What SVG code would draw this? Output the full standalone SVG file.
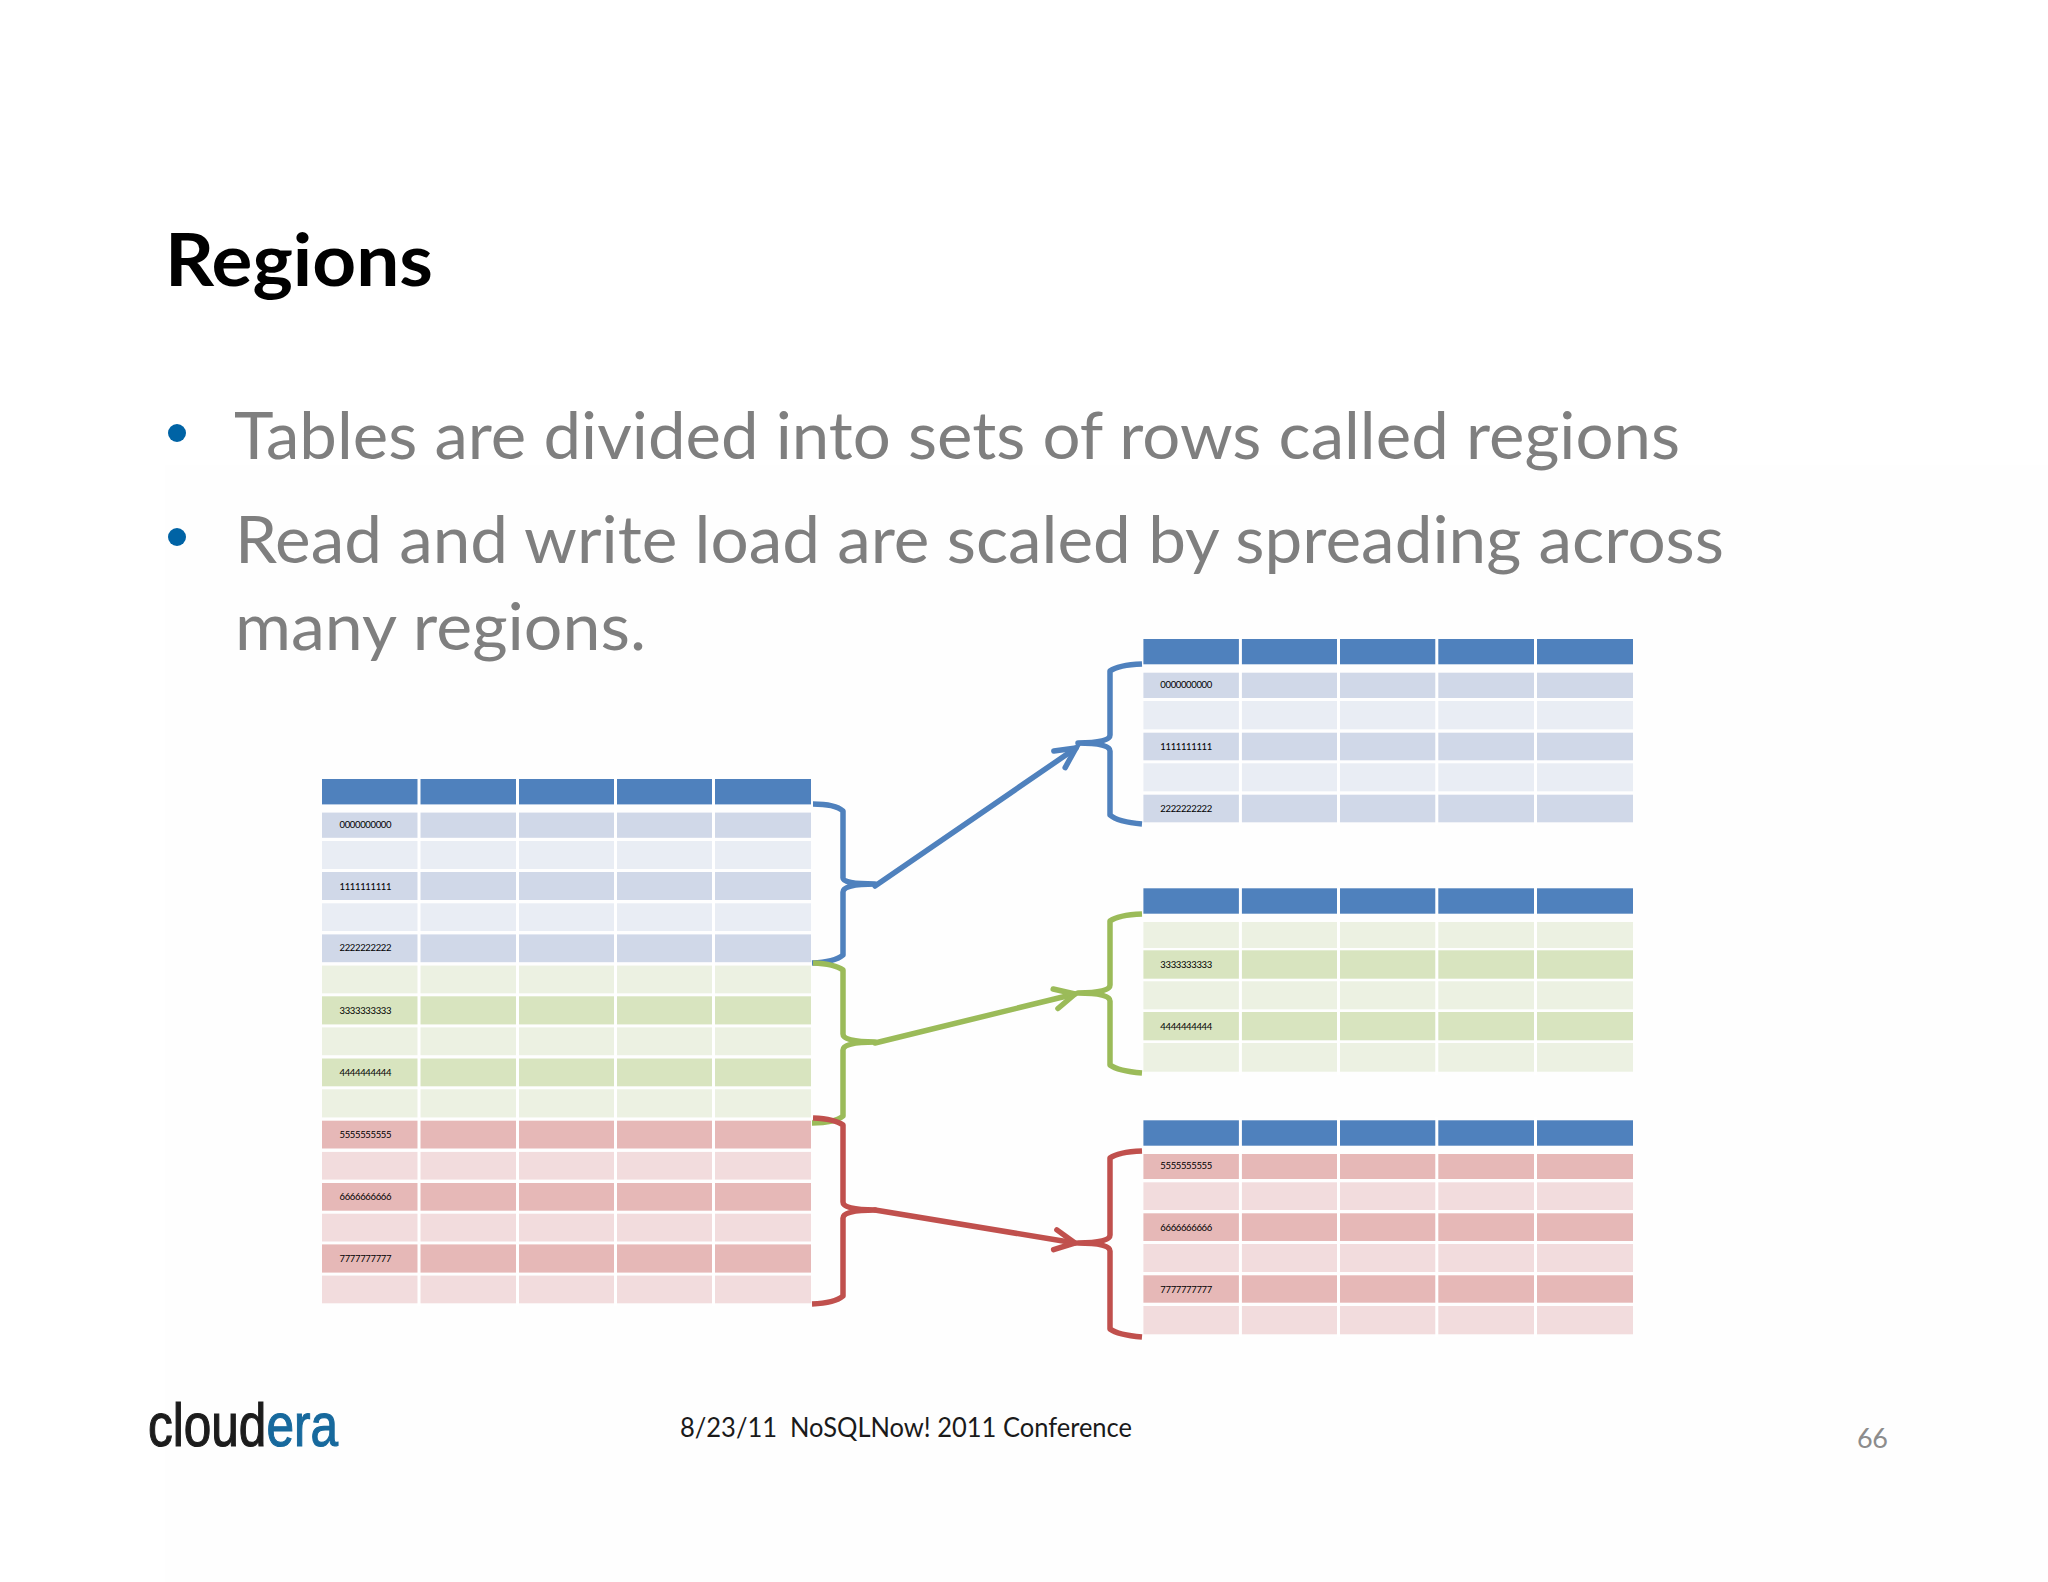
<svg xmlns="http://www.w3.org/2000/svg" width="2048" height="1582" viewBox="0 0 2048 1582">
<style>
text{font-family:"Lato","Open Sans",sans-serif}
.h{fill:#4f81bd}.b1{fill:#d0d8e8}.b2{fill:#e9edf4}.g1{fill:#d8e4bf}.g2{fill:#ecf1e2}.r1{fill:#e6b8b7}.r2{fill:#f2dcdd}
.sep{stroke:#fff;stroke-width:3;fill:none}
.lab{font-size:9.5px;fill:#000}
.body{font-size:66px;fill:#7f7f7f}
.br{fill:none;stroke-width:5.5;stroke-linejoin:round;stroke-linecap:butt}
.ar{fill:none;stroke-width:5.5;stroke-linecap:round}
.blue{stroke:#4f81bd}.green{stroke:#9bbb59}.red{stroke:#c0504d}
</style>
<defs>
<marker id="mb" markerUnits="userSpaceOnUse" markerWidth="40" markerHeight="40" refX="30" refY="20" orient="auto"><path d="M10,10L30,20L10,30" fill="none" stroke="#4f81bd" stroke-width="5.5" stroke-linecap="round"/></marker>
<marker id="mg" markerUnits="userSpaceOnUse" markerWidth="40" markerHeight="40" refX="30" refY="20" orient="auto"><path d="M10,10L30,20L10,30" fill="none" stroke="#9bbb59" stroke-width="5.5" stroke-linecap="round"/></marker>
<marker id="mr" markerUnits="userSpaceOnUse" markerWidth="40" markerHeight="40" refX="30" refY="20" orient="auto"><path d="M10,10L30,20L10,30" fill="none" stroke="#c0504d" stroke-width="5.5" stroke-linecap="round"/></marker>
</defs>
<rect width="2048" height="1582" fill="#fff"/>
<rect x="165" y="465" width="1883" height="1117" fill="#fefefe"/>
<g id="title"><text x="165" y="286" font-size="72" font-weight="700" fill="#000" textLength="268" lengthAdjust="spacingAndGlyphs">Regions</text></g>
<g id="bullets">
<circle cx="177" cy="433" r="9" fill="#0063a5"/>
<circle cx="177" cy="537" r="9" fill="#0063a5"/>
<text class="body" x="234" y="459" textLength="1446" lengthAdjust="spacingAndGlyphs">Tables are divided into sets of rows called regions</text>
<text class="body" x="235" y="563" textLength="1489" lengthAdjust="spacingAndGlyphs">Read and write load are scaled by spreading across</text>
<text class="body" x="235" y="650" textLength="411" lengthAdjust="spacingAndGlyphs">many regions.</text>
</g>
<g id="table-main">
<rect class="h" x="322" y="779" width="489" height="25.4"/>
<rect class="b1" x="322" y="812.6" width="489" height="25.2"/>
<rect class="b2" x="322" y="841" width="489" height="28"/>
<rect class="b1" x="322" y="872" width="489" height="28"/>
<rect class="b2" x="322" y="903.3" width="489" height="27.7"/>
<rect class="b1" x="322" y="934.4" width="489" height="27.8"/>
<rect class="g2" x="322" y="965.6" width="489" height="27.7"/>
<rect class="g1" x="322" y="996.3" width="489" height="28.1"/>
<rect class="g2" x="322" y="1027.4" width="489" height="27.8"/>
<rect class="g1" x="322" y="1058.5" width="489" height="27.8"/>
<rect class="g2" x="322" y="1089.3" width="489" height="28.1"/>
<rect class="r1" x="322" y="1120.7" width="489" height="27.8"/>
<rect class="r2" x="322" y="1151.9" width="489" height="27.7"/>
<rect class="r1" x="322" y="1183" width="489" height="27.7"/>
<rect class="r2" x="322" y="1213.7" width="489" height="27.8"/>
<rect class="r1" x="322" y="1244.4" width="489" height="28.2"/>
<rect class="r2" x="322" y="1275.6" width="489" height="27.7"/>
<path class="sep" d="M419,775V1306M517.5,775V1306M615.5,775V1306M713.5,775V1306"/>
<text class="lab" x="339.5" y="828" textLength="52">0000000000</text>
<text class="lab" x="339.5" y="890" textLength="52">1111111111</text>
<text class="lab" x="339.5" y="951" textLength="52">2222222222</text>
<text class="lab" x="339.5" y="1014" textLength="52">3333333333</text>
<text class="lab" x="339.5" y="1076" textLength="52">4444444444</text>
<text class="lab" x="339.5" y="1137.5" textLength="52">5555555555</text>
<text class="lab" x="339.5" y="1200" textLength="52">6666666666</text>
<text class="lab" x="339.5" y="1262" textLength="52">7777777777</text>
</g>
<g id="table-blue">
<rect class="h" x="1143.4" y="639" width="489.6" height="25.3"/>
<rect class="b1" x="1143.4" y="672.7" width="489.6" height="25.3"/>
<rect class="b2" x="1143.4" y="701" width="489.6" height="28.3"/>
<rect class="b1" x="1143.4" y="732.7" width="489.6" height="27.6"/>
<rect class="b2" x="1143.4" y="763.3" width="489.6" height="28"/>
<rect class="b1" x="1143.4" y="794.7" width="489.6" height="27.6"/>
<path class="sep" d="M1240.4,636V825M1338.5,636V825M1436.8,636V825M1535.5,636V825"/>
<text class="lab" x="1160.3" y="688" textLength="52">0000000000</text>
<text class="lab" x="1160.3" y="750" textLength="52">1111111111</text>
<text class="lab" x="1160.3" y="812.4" textLength="52">2222222222</text>
</g>
<g id="table-green">
<rect class="h" x="1143.4" y="888.3" width="489.6" height="25.4"/>
<rect class="g2" x="1143.4" y="922" width="489.6" height="26"/>
<rect class="g1" x="1143.4" y="950.3" width="489.6" height="28.4"/>
<rect class="g2" x="1143.4" y="981.3" width="489.6" height="28"/>
<rect class="g1" x="1143.4" y="1012" width="489.6" height="28.3"/>
<rect class="g2" x="1143.4" y="1043" width="489.6" height="28.7"/>
<path class="sep" d="M1240.4,885V1075M1338.5,885V1075M1436.8,885V1075M1535.5,885V1075"/>
<text class="lab" x="1160.3" y="968" textLength="52">3333333333</text>
<text class="lab" x="1160.3" y="1030.4" textLength="52">4444444444</text>
</g>
<g id="table-red">
<rect class="h" x="1143.4" y="1120.3" width="489.6" height="25.4"/>
<rect class="r1" x="1143.4" y="1154" width="489.6" height="25"/>
<rect class="r2" x="1143.4" y="1182.3" width="489.6" height="27.7"/>
<rect class="r1" x="1143.4" y="1213.3" width="489.6" height="27.7"/>
<rect class="r2" x="1143.4" y="1244" width="489.6" height="28"/>
<rect class="r1" x="1143.4" y="1275.3" width="489.6" height="27.4"/>
<rect class="r2" x="1143.4" y="1306" width="489.6" height="28.3"/>
<path class="sep" d="M1240.4,1117V1337M1338.5,1117V1337M1436.8,1117V1337M1535.5,1117V1337"/>
<text class="lab" x="1160.3" y="1169" textLength="52">5555555555</text>
<text class="lab" x="1160.3" y="1231.4" textLength="52">6666666666</text>
<text class="lab" x="1160.3" y="1293.4" textLength="52">7777777777</text>
</g>
<g id="connectors">
<path class="br blue" d="M813,804Q835,804 843,811V878Q843,884 875,884Q843,884 843,892V955Q835,962 812,963"/>
<path class="br green" d="M813,963Q835,964 843,970V1034Q843,1042 875,1042Q843,1042 843,1050V1116Q835,1123 812,1123"/>
<path class="br red" d="M813,1118Q835,1119 843,1125V1202Q843,1210 875,1210Q843,1210 843,1218V1296Q835,1303 812,1304"/>
<path class="ar blue" d="M875,886L1076,748" marker-end="url(#mb)"/>
<path class="ar green" d="M875,1043L1075,994" marker-end="url(#mg)"/>
<path class="ar red" d="M875,1210L1075,1243" marker-end="url(#mr)"/>
<path class="br blue" d="M1142,664Q1118,665 1110,671V735Q1110,743 1078,743Q1110,743 1110,751V815Q1118,822 1142,824"/>
<path class="br green" d="M1142,914Q1118,915 1110,921V985Q1110,993 1078,993Q1110,993 1110,1001V1065Q1118,1071 1142,1073"/>
<path class="br red" d="M1142,1151Q1118,1152 1110,1158V1235Q1110,1243 1078,1243Q1110,1243 1110,1251V1329Q1118,1335 1142,1337"/>
</g>
<g id="logo">
<text x="148" y="1446" font-size="62" stroke-width="1.2" textLength="190" lengthAdjust="spacingAndGlyphs" style="font-family:'Liberation Sans',sans-serif"><tspan fill="#1c1c1c" stroke="#1c1c1c">cloud</tspan><tspan fill="#17699d" stroke="#17699d">era</tspan></text>
</g>
<g id="footer">
<text x="680" y="1437" font-size="27" fill="#1a1a1a" textLength="452" lengthAdjust="spacingAndGlyphs" xml:space="preserve">8/23/11  NoSQLNow! 2011 Conference</text>
<text x="1857" y="1448" font-size="27" fill="#8c8c8c" textLength="31">66</text>
</g>
</svg>
